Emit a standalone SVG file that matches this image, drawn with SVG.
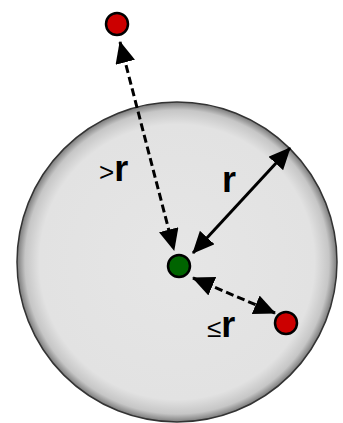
<svg xmlns="http://www.w3.org/2000/svg" width="343" height="423" viewBox="0 0 343 423">
<style>
.lbl{font-family:"Liberation Sans",Arial,sans-serif;fill:#000}
.b{font-weight:bold;font-size:36px}
.n{font-size:26px}
.conn{stroke:#000;stroke-width:3;fill:none}
.dash{stroke-dasharray:8 4}
.dot{stroke:#000;stroke-width:2.5}
</style>
<defs>
<radialGradient id="g" cx="0.5" cy="0.5" r="0.5">
<stop offset="0" stop-color="#e6e6e6"/>
<stop offset="0.86" stop-color="#e2e2e2"/>
<stop offset="0.95" stop-color="#c6c6c6"/>
<stop offset="1" stop-color="#7a7a7a"/>
</radialGradient>
<marker id="ah" viewBox="0 0 22 20" refX="21" refY="10" markerWidth="22" markerHeight="20" markerUnits="userSpaceOnUse" orient="auto-start-reverse">
<path d="M0,0 L22,10 L0,20 Z" fill="#000"/>
</marker>
</defs>
<g id="sphere">
<circle cx="177" cy="262" r="160" fill="url(#g)" stroke="#333" stroke-width="1.5"/>
</g>
<g id="connectors">
<line class="conn dash" x1="120" y1="42" x2="174" y2="250" marker-start="url(#ah)" marker-end="url(#ah)"/>
<line class="conn" x1="193" y1="253" x2="290" y2="148" marker-start="url(#ah)" marker-end="url(#ah)"/>
<line class="conn dash" x1="193" y1="278" x2="275" y2="313" marker-start="url(#ah)" marker-end="url(#ah)"/>
</g>
<g id="center">
<circle class="dot" cx="179" cy="266" r="11" fill="#006400"/>
</g>
<g id="far">
<circle class="dot" cx="117" cy="24" r="11" fill="#cc0000"/>
</g>
<g id="near">
<circle class="dot" cx="286" cy="323" r="11" fill="#cc0000"/>
</g>
<g id="labels">
<text class="lbl" x="99" y="181"><tspan class="n">&gt;</tspan><tspan class="b">r</tspan></text>
<text class="lbl b" x="222" y="192">r</text>
<text class="lbl" x="207" y="337"><tspan class="n">≤</tspan><tspan class="b">r</tspan></text>
</g>
</svg>
